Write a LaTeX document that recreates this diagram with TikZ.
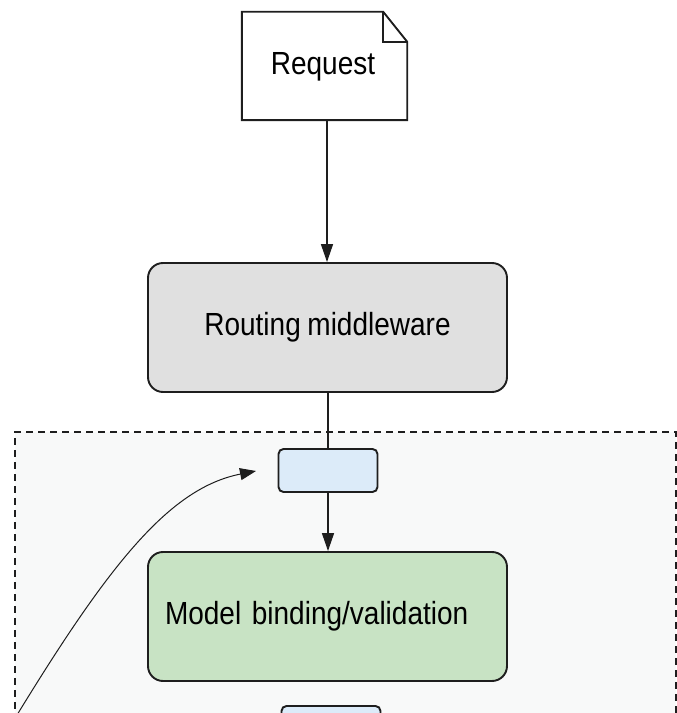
\documentclass[tikz,border=0pt]{standalone}
\usepackage{fontspec}
\setmainfont{Liberation Sans}[FakeStretch=0.875, WordSpace=0.85]
\usetikzlibrary{arrows.meta}
\definecolor{rgray}{HTML}{E0E0E0}
\definecolor{sblue}{HTML}{DCEBF9}
\definecolor{mgreen}{HTML}{C8E3C4}
\definecolor{zone}{HTML}{F8F9F9}
\definecolor{ink}{HTML}{1E1E1E}
\begin{document}
\begin{tikzpicture}[x=1pt,y=1pt,
  bigbox/.style={draw=ink, line width=1.9pt, rounded corners=15pt, minimum width=359pt, minimum height=129pt, inner sep=0pt, font=\fontsize{32}{38}\selectfont},
  smallbox/.style={draw=ink, line width=1.9pt, rounded corners=5pt, fill=sblue, minimum width=99pt, minimum height=43pt, inner sep=0pt},
  conn/.style={draw=ink, line width=1.5pt},
  arr/.style={conn, -{Triangle[length=18pt,width=12pt]}}]
\useasboundingbox (0,0) rectangle (677,713);
\clip (0,0) rectangle (677,713);
% zone
\draw[dashed, dash pattern=on 7pt off 5pt, line width=1.4pt, draw=ink, fill=zone] (15,-20) rectangle (676,281);
% request note
\node[minimum width=165pt, minimum height=108pt, inner sep=0pt] (req) at (324.5,647) {};
\node[font=\fontsize{32}{38}\selectfont] (reqt) at (323,646) {Request};
\draw[ink, line width=1.9pt, line join=miter] (req.north west) -- ([xshift=-24pt]req.north east) -- ([yshift=-30pt]req.north east) -- (req.south east) -- (req.south west) -- cycle;
\draw[ink, line width=1.9pt] ([xshift=-24pt]req.north east) -- ([xshift=-24pt,yshift=-30pt]req.north east) -- ([yshift=-30pt]req.north east);
% boxes
\node[bigbox, fill=rgray] (route) at (327.5,385.5) {Routing middleware};
\node[smallbox] (f1) at (328,242.5) {};
\node[bigbox, fill=mgreen, text width=325pt, align=left] (model) at (327.5,96.5) {Model binding/validation};
\node[smallbox] (f2) at (331,-14.5) {};
% connectors
\coordinate (reqbot) at (327,593);
\draw[arr] (reqbot) -- (reqbot |- route.north);
\draw[conn] (route.south -| f1.north) -- (f1.north);
\draw[arr] (f1.south) -- (f1.south |- model.north);
\draw[conn] (model.south -| f1.south) -- (model.south -| f1.south |- f2.north);
\coordinate (cstart) at (17,-2);
\coordinate (cend) at (256,242);
\draw[ink, line width=1pt, -{Triangle[length=16pt,width=12pt]}] (cstart) .. controls (110,150) and (170,225) .. (cend);
\end{tikzpicture}
\end{document}
